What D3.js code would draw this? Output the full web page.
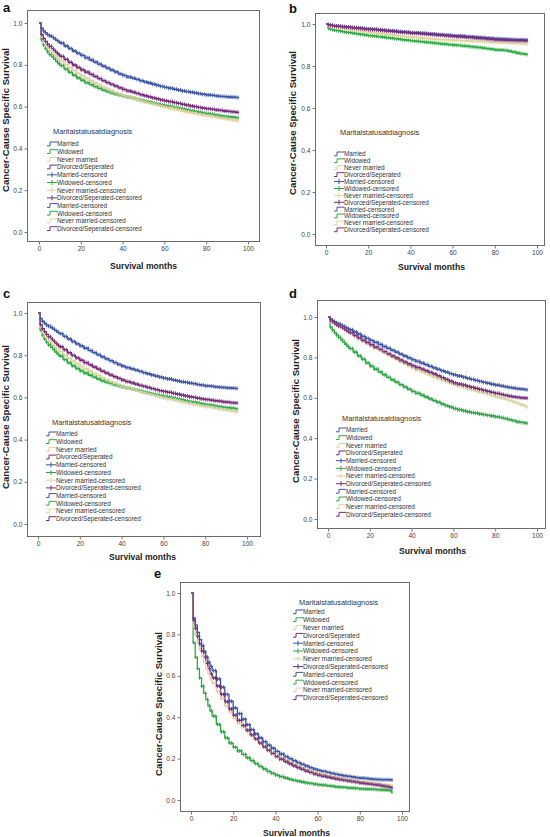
<!DOCTYPE html>
<html><head><meta charset="utf-8">
<script src="https://cdn.jsdelivr.net/npm/d3@7"></script>
<style>body{margin:0;background:#fff}svg{display:block}</style>
</head><body>
<script>
// ---- data ----
const months = [0,1,2,3,4,5,6,7,8,9,10,12,14,16,18,20,22,24,26,28,30,32,34,36,38,40,42,44,46,48,50,52,54,56,58,60,62,64,66,68,70,72,74,76,78,80,82,84,86,88,90,92,94,95];
const groups = ["Married","Widowed","Never married","Divorced/Seperated"];
const legendLabels = ["Married","Widowed","Never married","Divorced/Seperated",
  "Married-censored","Widowed-censored","Never married-censored","Divorced/Seperated-censored",
  "Married-censored","Widowed-censored","Never married-censored","Divorced/Seperated-censored"];
const legendTitle = "Maritalstatusatdiagnosis";
const xTicks = [0,20,40,60,80,100];
const yTicks = [0.0,0.2,0.4,0.6,0.8,1.0];
const colors = ["#3b55a6","#2ea845","#ddd3a2","#772a79"];

const aMarried  = [1.0,.975,.962,.953,.945,.938,.931,.924,.917,.91,.903,.89,.878,.866,.855,.845,.834,.823,.813,.803,.793,.784,.775,.766,.757,.749,.742,.736,.73,.724,.718,.713,.707,.702,.697,.692,.688,.683,.679,.675,.672,.669,.666,.662,.659,.656,.654,.651,.649,.648,.646,.645,.644,.643];
const aWidowed  = [1.0,.92,.895,.877,.862,.849,.837,.826,.815,.805,.796,.779,.764,.75,.737,.726,.715,.705,.696,.687,.679,.672,.666,.66,.655,.65,.645,.64,.635,.631,.626,.622,.617,.613,.609,.605,.601,.596,.592,.588,.584,.58,.577,.573,.569,.566,.563,.559,.556,.553,.551,.549,.547,.546];
const aNever    = [1.0,.935,.912,.896,.882,.869,.858,.847,.837,.827,.818,.801,.786,.772,.759,.747,.735,.724,.713,.703,.693,.684,.675,.667,.659,.652,.646,.64,.634,.628,.622,.617,.612,.607,.602,.597,.593,.588,.584,.579,.575,.571,.567,.563,.56,.556,.552,.549,.545,.542,.539,.536,.533,.532];
const aDivorced = [1.0,.945,.926,.912,.899,.888,.877,.867,.857,.848,.84,.826,.812,.799,.787,.776,.765,.754,.744,.734,.724,.715,.706,.698,.69,.682,.675,.669,.663,.657,.652,.647,.642,.637,.632,.628,.624,.619,.615,.611,.607,.603,.6,.596,.593,.59,.587,.584,.582,.579,.577,.575,.573,.572];

const bMarried  = [1.0,.997,.995,.993,.992,.99,.989,.988,.987,.986,.985,.983,.982,.98,.978,.976,.975,.973,.971,.969,.968,.966,.964,.962,.961,.959,.958,.956,.955,.953,.952,.95,.949,.947,.946,.944,.943,.942,.94,.939,.937,.936,.935,.933,.932,.93,.929,.928,.927,.926,.925,.925,.924,.924];
const bWidowed  = [1.0,.98,.976,.973,.971,.969,.967,.965,.963,.961,.96,.957,.954,.951,.948,.945,.943,.94,.938,.935,.933,.93,.928,.925,.923,.921,.918,.916,.914,.912,.91,.908,.906,.904,.902,.9,.898,.896,.894,.892,.89,.888,.885,.883,.88,.877,.876,.874,.871,.867,.862,.859,.856,.855];
const bNever    = [1.0,.992,.989,.987,.985,.983,.981,.98,.978,.976,.975,.972,.969,.967,.964,.961,.959,.956,.954,.951,.949,.946,.944,.941,.939,.937,.936,.934,.932,.93,.929,.927,.926,.925,.924,.923,.922,.921,.92,.919,.918,.917,.916,.915,.913,.912,.911,.911,.91,.909,.908,.907,.906,.906];
const bDivorced = [1.0,.996,.994,.992,.99,.989,.988,.987,.986,.985,.984,.982,.98,.978,.976,.974,.973,.971,.969,.967,.966,.964,.962,.96,.959,.957,.956,.954,.953,.951,.95,.948,.947,.945,.944,.942,.94,.939,.937,.936,.934,.932,.931,.929,.927,.925,.924,.923,.922,.922,.921,.921,.92,.92];

const cMarried  = [1.0,.974,.961,.952,.944,.937,.93,.923,.916,.909,.902,.889,.877,.865,.854,.844,.833,.822,.812,.802,.792,.783,.774,.765,.756,.748,.741,.735,.729,.723,.717,.712,.706,.701,.696,.691,.687,.682,.678,.674,.671,.668,.665,.661,.658,.655,.653,.65,.648,.647,.645,.644,.643,.642];
const cWidowed  = [1.0,.92,.895,.877,.862,.849,.837,.826,.815,.805,.796,.779,.764,.75,.737,.726,.715,.705,.696,.687,.679,.672,.666,.66,.655,.65,.645,.64,.635,.631,.626,.622,.617,.613,.609,.605,.601,.596,.592,.588,.584,.58,.577,.573,.569,.566,.563,.559,.556,.553,.551,.549,.547,.545];
const cNever    = [1.0,.935,.912,.896,.882,.869,.858,.847,.837,.827,.818,.801,.786,.772,.759,.747,.735,.724,.713,.703,.693,.684,.675,.667,.659,.652,.646,.64,.634,.628,.622,.617,.612,.607,.602,.597,.593,.588,.584,.579,.575,.571,.567,.563,.56,.556,.552,.549,.545,.542,.539,.536,.533,.531];
const cDivorced = [1.0,.945,.926,.912,.899,.888,.877,.867,.857,.848,.84,.826,.812,.799,.787,.776,.765,.754,.744,.734,.724,.715,.706,.698,.69,.682,.675,.669,.663,.657,.652,.647,.642,.637,.632,.628,.624,.619,.615,.611,.607,.603,.6,.596,.593,.59,.587,.584,.582,.579,.577,.575,.574,.573];

const dMarried  = [1.0,.99,.983,.977,.971,.965,.959,.954,.948,.943,.937,.926,.915,.904,.894,.884,.874,.864,.854,.845,.835,.826,.816,.807,.798,.789,.78,.772,.764,.756,.748,.741,.734,.727,.72,.714,.708,.702,.696,.691,.686,.681,.676,.672,.667,.663,.659,.655,.651,.648,.645,.643,.641,.64];
const dWidowed  = [1.0,.95,.936,.923,.911,.899,.887,.876,.865,.854,.844,.826,.808,.791,.773,.757,.742,.727,.714,.701,.689,.677,.665,.654,.643,.632,.622,.613,.604,.595,.586,.578,.569,.561,.554,.547,.541,.536,.531,.527,.524,.52,.517,.513,.51,.506,.502,.497,.492,.487,.481,.478,.475,.474];
const dNever    = [1.0,.983,.975,.967,.96,.953,.946,.939,.932,.925,.919,.906,.893,.881,.869,.858,.846,.834,.822,.811,.8,.789,.778,.768,.758,.748,.738,.729,.72,.711,.703,.695,.687,.68,.672,.665,.658,.651,.645,.639,.634,.628,.623,.617,.611,.605,.599,.593,.587,.58,.572,.565,.558,.555];
const dDivorced = [1.0,.985,.977,.969,.962,.955,.948,.941,.935,.928,.922,.909,.897,.885,.874,.863,.851,.84,.829,.818,.807,.797,.787,.777,.768,.759,.75,.742,.734,.726,.718,.709,.7,.691,.682,.674,.668,.663,.657,.652,.647,.642,.637,.632,.627,.622,.617,.612,.608,.605,.602,.6,.599,.598];

const eMarried  = [1.0,.88,.845,.81,.775,.745,.715,.69,.665,.645,.625,.585,.545,.51,.477,.445,.417,.39,.364,.34,.319,.3,.282,.265,.25,.235,.222,.21,.2,.19,.181,.172,.164,.156,.149,.143,.138,.133,.128,.124,.12,.117,.114,.111,.108,.106,.104,.102,.1,.099,.098,.098,.097,.097];
const eWidowed  = [1.0,.76,.69,.635,.59,.55,.515,.485,.455,.43,.405,.365,.33,.3,.275,.255,.237,.22,.204,.19,.176,.162,.15,.138,.129,.12,.113,.106,.1,.095,.091,.087,.083,.08,.077,.074,.072,.069,.067,.064,.062,.061,.059,.058,.056,.054,.053,.052,.051,.05,.049,.048,.046,.038];
const eNever    = [1.0,.84,.8,.765,.73,.695,.665,.635,.61,.585,.565,.525,.49,.455,.425,.395,.372,.35,.33,.31,.292,.275,.259,.243,.229,.215,.203,.192,.182,.172,.163,.155,.147,.14,.134,.128,.123,.118,.113,.109,.105,.101,.098,.095,.091,.088,.085,.082,.08,.078,.075,.073,.071,.07];
const eDivorced = [1.0,.87,.83,.79,.755,.72,.69,.66,.635,.61,.59,.55,.51,.475,.44,.41,.385,.36,.337,.315,.295,.275,.257,.24,.225,.21,.197,.185,.175,.165,.156,.148,.14,.133,.126,.12,.115,.11,.106,.102,.098,.095,.092,.089,.086,.082,.079,.077,.074,.072,.068,.065,.062,.058];

// ---- layout ----
const panels = [
 {id:"a", series:[aMarried,aWidowed,aNever,aDivorced], frame:[27,10,259,241], x:[39,248], y:[232,23], yl:[6,120], lab:[3,12], leg:[47,131,144,7.7], xt:266},
 {id:"b", series:[bMarried,bWidowed,bNever,bDivorced], frame:[315,13,544,245], x:[326,537], y:[234,24], yl:[293,123], lab:[289,13], leg:[334,132,154,6.9], xt:267},
 {id:"c", series:[cMarried,cWidowed,cNever,cDivorced], frame:[27,302,260,536], x:[38,247], y:[524,313], yl:[6,417], lab:[3,298], leg:[46,422,434,7.7], xt:557},
 {id:"d", series:[dMarried,dWidowed,dNever,dDivorced], frame:[317,300,545,528], x:[328,537], y:[519,317], yl:[296,411], lab:[289,298], leg:[336,418,430,7.67], xt:551},
 {id:"e", series:[eMarried,eWidowed,eNever,eDivorced], frame:[180,582,409,811], x:[191,402], y:[800,593], yl:[159,704], lab:[154,578], leg:[293,602,612,7.8], xt:833}
];
const censorMonths = d3.range(1.2, 95.6, 0.95);

const svg = d3.select("body").append("svg").attr("width",550).attr("height",837)
  .style("font-family","Arial, 'Liberation Sans', sans-serif");

panels.forEach(p => {
  const g = svg.append("g");
  const [fx0,fy0,fx1,fy1] = p.frame;
  const x = d3.scaleLinear().domain([0,100]).range(p.x);
  const y = d3.scaleLinear().domain([0,1]).range(p.y);

  g.append("rect").attr("x",fx0+0.5).attr("y",fy0+0.5).attr("width",fx1-fx0).attr("height",fy1-fy0)
   .attr("fill","#fff").attr("stroke","#6b6b6b").attr("stroke-width",1);

  const ax = g.append("g").attr("transform",`translate(0,${fy1+0.5})`)
    .call(d3.axisBottom(x).tickValues(xTicks).tickSize(3).tickPadding(2).tickFormat(d3.format("d")));
  const ay = g.append("g").attr("transform",`translate(${fx0+0.5},0)`)
    .call(d3.axisLeft(y).tickValues(yTicks).tickSize(3).tickPadding(2).tickFormat(d3.format(".1f")));
  [ax,ay].forEach(a => {
    a.select(".domain").remove();
    a.selectAll("line").attr("stroke","#777");
    a.selectAll("text").attr("font-size",6.6).attr("fill","#444").attr("font-family","Arial, 'Liberation Sans', sans-serif");
  });

  const line = d3.line().x((d,i)=>x(months[i])).y(d=>y(d)).curve(d3.curveStepAfter);
  p.series.forEach((s,k) => {
    g.append("path").attr("d",line(s)).attr("fill","none").attr("stroke",colors[k]).attr("stroke-width",1.3);
  });
  p.series.forEach((s,k) => {
    const val = m => s[d3.bisectRight(months,m)-1];
    g.append("path")
      .attr("d", censorMonths.map(m => { const cx=x(m), cy=y(val(m)); return `M${cx},${cy-2}V${cy+2}M${cx-1.2},${cy}H${cx+1.2}`; }).join(""))
      .attr("stroke",colors[k]).attr("stroke-width",0.9).attr("fill","none");
  });

  const [lx,lty,ly0,ldy] = p.leg;
  g.append("text").attr("x",lx+6).attr("y",lty+2.5).attr("font-size",7.4).attr("fill","#333").text(legendTitle);
  legendLabels.forEach((t,i) => {
    const cy = ly0 + i*ldy, c = colors[i%4];
    const cross = i>=4 && i<8;
    g.append("path").attr("d", cross ? `M${lx},${cy}H${lx+10}M${lx+5},${cy-2.5}V${cy+2.5}` :
        `M${lx},${cy+1.8}H${lx+3}V${cy-2}H${lx+10}`)
      .attr("stroke",c).attr("stroke-width",1).attr("fill","none");
    g.append("text").attr("x",lx+10).attr("y",cy+2.3).attr("font-size",6.4).attr("fill","#333").text(t);
  });

  g.append("text").attr("x",(p.x[0]+p.x[1])/2).attr("y",p.xt+3).attr("text-anchor","middle")
   .attr("font-size",8.6).attr("font-weight","bold").attr("fill","#222").text("Survival months");
  g.append("text").attr("transform",`translate(${p.yl[0]+3.3},${p.yl[1]}) rotate(-90)`).attr("text-anchor","middle")
   .attr("font-size",9.6).attr("font-weight","bold").attr("fill","#222").text("Cancer-Cause Specific Survival");
  g.append("text").attr("x",p.lab[0]).attr("y",p.lab[1]).attr("font-size",13).attr("font-weight","bold").attr("fill","#111").text(p.id);
});
</script>
</body></html>
